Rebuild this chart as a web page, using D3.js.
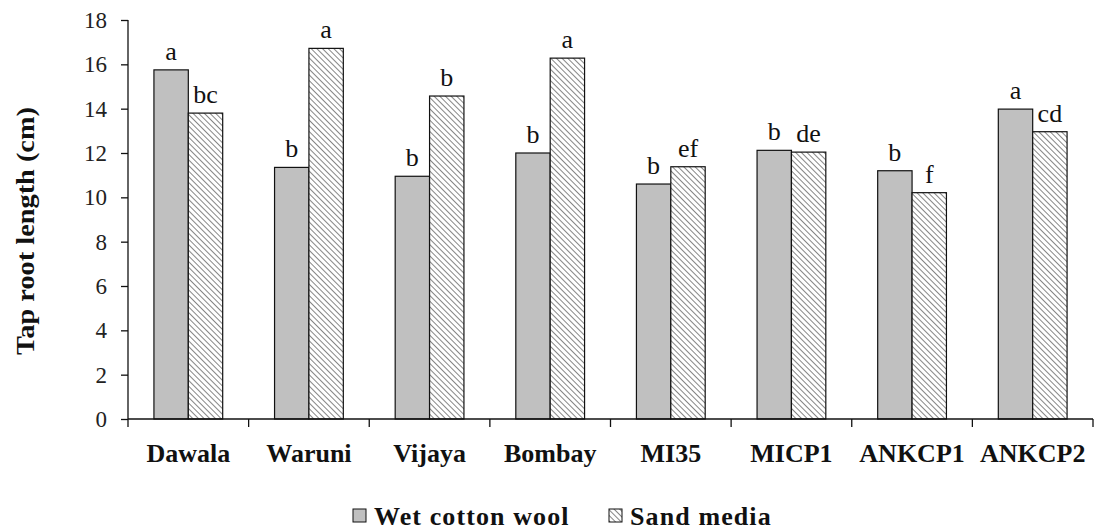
<!DOCTYPE html>
<html>
<head>
<meta charset="utf-8">
<script src="https://cdn.jsdelivr.net/npm/d3@7"></script>
<style>
  body { margin: 0; background: #fff; }
  text { font-family: "Liberation Serif", "Times New Roman", serif; }
</style>
</head>
<body>
<div id="chart"></div>
<script>
var categories = ["Dawala", "Waruni", "Vijaya", "Bombay", "MI35", "MICP1", "ANKCP1", "ANKCP2"];
var series = ["Wet cotton wool", "Sand media"];
var wetCotton = [15.75, 11.35, 10.95, 12.0, 10.6, 12.12, 11.2, 13.98];
var sandMedia = [13.8, 16.72, 14.57, 16.28, 11.38, 12.04, 10.21, 12.96];
var wetLetters = ["a", "b", "b", "b", "b", "b", "b", "a"];
var sandLetters = ["bc", "a", "b", "a", "ef", "de", "f", "cd"];
var yTicks = [0, 2, 4, 6, 8, 10, 12, 14, 16, 18];

var width = 1094, height = 531;
var plotLeft = 128, plotRight = 1093, plotTop = 20, plotBottom = 419;

var svg = d3.select("#chart").append("svg")
    .attr("width", width)
    .attr("height", height);

// hatch pattern for sand media
var defs = svg.append("defs");
var pat = defs.append("pattern")
    .attr("id", "hatch")
    .attr("patternUnits", "userSpaceOnUse")
    .attr("width", 4)
    .attr("height", 4)
    .attr("patternTransform", "rotate(45)");
pat.append("rect").attr("width", 4).attr("height", 4).attr("fill", "#fff");
pat.append("line")
    .attr("x1", 0).attr("y1", 0).attr("x2", 4).attr("y2", 0)
    .attr("stroke", "#222").attr("stroke-width", 1.1);

var x0 = d3.scaleBand()
    .domain(categories)
    .range([plotLeft, plotRight])
    .paddingInner(0.43)
    .paddingOuter(0.215);

var x1 = d3.scaleBand()
    .domain(series)
    .range([0, x0.bandwidth()]);

var y = d3.scaleLinear()
    .domain([0, 18])
    .range([plotBottom, plotTop]);

var fills = ["#c0c0c0", "url(#hatch)"];

var rows = categories.map(function (c, i) {
    return [
        { cat: c, s: series[0], v: wetCotton[i], l: wetLetters[i] },
        { cat: c, s: series[1], v: sandMedia[i], l: sandLetters[i] }
    ];
});

var groups = svg.append("g").selectAll("g")
    .data(rows)
    .enter().append("g")
    .attr("transform", function (d) { return "translate(" + x0(d[0].cat) + ",0)"; });

groups.selectAll("rect")
    .data(function (d) { return d; })
    .enter().append("rect")
    .attr("x", function (d) { return x1(d.s); })
    .attr("y", function (d) { return y(d.v); })
    .attr("width", x1.bandwidth())
    .attr("height", function (d) { return y(0) - y(d.v); })
    .attr("fill", function (d, i) { return fills[i]; })
    .attr("stroke", "#111")
    .attr("stroke-width", 1.2);

groups.selectAll("text.letter")
    .data(function (d) { return d; })
    .enter().append("text")
    .attr("class", "letter")
    .attr("x", function (d) { return x1(d.s) + x1.bandwidth() / 2; })
    .attr("y", function (d) { return y(d.v) - 10; })
    .attr("text-anchor", "middle")
    .style("font-size", "26px")
    .attr("fill", "#111")
    .text(function (d) { return d.l; });

// y axis
var yAxis = svg.append("g")
    .attr("transform", "translate(" + plotLeft + ",0)")
    .call(d3.axisLeft(y).tickValues(yTicks).tickSize(7).tickPadding(14).tickFormat(d3.format("d")));
yAxis.select(".domain").attr("stroke", "#111").attr("stroke-width", 1.3)
    .attr("d", "M0," + plotTop + "V" + plotBottom);
yAxis.selectAll(".tick line").attr("stroke", "#111").attr("stroke-width", 1.3);
yAxis.selectAll("text").style("font-size", "23px").attr("fill", "#222")
    .style("font-family", "Liberation Serif, serif");

// x axis (ticks between categories)
var xEdges = categories.map(function (c) { return x0(c) - x0.step() * x0.paddingInner() / 2; });
xEdges.push(plotRight);
var xAxis = svg.append("g");
xAxis.append("line")
    .attr("x1", plotLeft).attr("x2", plotRight)
    .attr("y1", plotBottom).attr("y2", plotBottom)
    .attr("stroke", "#111").attr("stroke-width", 1.3);
xAxis.selectAll("line.tk")
    .data(xEdges)
    .enter().append("line")
    .attr("class", "tk")
    .attr("x1", function (d) { return d; }).attr("x2", function (d) { return d; })
    .attr("y1", plotBottom).attr("y2", plotBottom + 8)
    .attr("stroke", "#111").attr("stroke-width", 1.3);
xAxis.selectAll("text")
    .data(categories)
    .enter().append("text")
    .attr("x", function (d) { return x0(d) + x0.bandwidth() / 2; })
    .attr("y", 462)
    .attr("text-anchor", "middle")
    .style("font-size", "26px")
    .style("font-weight", "bold")
    .attr("fill", "#111")
    .text(function (d) { return d; });

// y title
svg.append("text")
    .attr("transform", "translate(34,231) rotate(-90)")
    .attr("text-anchor", "middle")
    .attr("textLength", 248)
    .attr("lengthAdjust", "spacingAndGlyphs")
    .style("font-size", "25px")
    .style("font-weight", "bold")
    .attr("fill", "#111")
    .text("Tap root length (cm)");

// legend
var legendX = [353, 609];
var legend = svg.append("g").selectAll("g")
    .data(series)
    .enter().append("g")
    .attr("transform", function (d, i) { return "translate(" + legendX[i] + ",509)"; });
legend.append("rect")
    .attr("width", 13).attr("height", 13)
    .attr("fill", function (d, i) { return fills[i]; })
    .attr("stroke", "#111").attr("stroke-width", 1);
legend.append("text")
    .attr("x", 21).attr("y", 16)
    .style("font-size", "26px")
    .style("font-weight", "bold")
    .style("letter-spacing", "1.1px")
    .attr("fill", "#111")
    .text(function (d) { return d; });
</script>
</body>
</html>
